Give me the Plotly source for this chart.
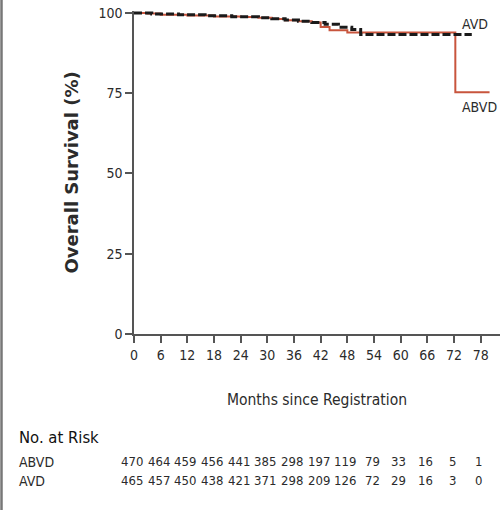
import plotly.graph_objects as go

# Kaplan-Meier step data (months, overall survival %)
abvd_months = [0, 3, 6, 12, 18, 24, 28, 31, 34, 37, 40, 42, 44, 48, 72.3, 80]
abvd_surv = [100, 99.8, 99.4, 99.2, 98.9, 98.7, 98.5, 98.1, 97.7, 97.4, 97.0, 95.6, 94.6, 93.9, 75.3, 75.3]

avd_months = [0, 4, 10, 16, 22, 28, 31, 34, 37, 40, 43, 46, 49, 51, 76]
avd_surv = [100, 99.7, 99.4, 99.1, 98.8, 98.5, 98.2, 97.8, 97.4, 97.0, 96.5, 95.5, 94.8, 93.3, 93.3]

x_ticks = list(range(0, 79, 6))
y_ticks = [0, 25, 50, 75, 100]

risk_abvd = [470, 464, 459, 456, 441, 385, 298, 197, 119, 79, 33, 16, 5, 1]
risk_avd = [465, 457, 450, 438, 421, 371, 298, 209, 126, 72, 29, 16, 3, 0]

FONT = "DejaVu Sans Condensed, Roboto Condensed, Liberation Sans Narrow, Roboto, sans-serif"
TXT = "#2b2b2b"
AX = "#555555"
FS = 14

fig = go.Figure()
fig.add_trace(go.Scatter(x=abvd_months, y=abvd_surv, mode="lines", line_shape="hv",
                         line=dict(color="#c8553d", width=2), showlegend=False))
fig.add_trace(go.Scatter(x=avd_months, y=avd_surv, mode="lines", line_shape="hv",
                         line=dict(color="#1a1a1a", width=3, dash="8px,3px"), showlegend=False))

fig.update_xaxes(range=[0, 82.35], tickvals=x_ticks, ticks="outside", ticklen=7, tickwidth=1.5,
                 tickcolor=AX, showline=True, linecolor=AX, linewidth=1.5, showgrid=False,
                 zeroline=False, tickfont=dict(family=FONT, size=FS, color=TXT),
                 title=dict(text="Months since Registration", font=dict(family=FONT, size=15.5, color=TXT),
                            standoff=33))
fig.update_yaxes(range=[0, 100.6], tickvals=y_ticks, ticks="outside", ticklen=7, tickwidth=1.5,
                 tickcolor=AX, showline=True, linecolor=AX, linewidth=1.5, showgrid=False,
                 zeroline=False, tickfont=dict(family=FONT, size=FS, color=TXT))

ann = []
ann.append(dict(text="<b>Overall Survival (%)</b>", textangle=-90, xref="paper", yref="paper",
                x=-0.172, y=0.50, xanchor="center", yanchor="middle", showarrow=False,
                font=dict(family="DejaVu Sans, Verdana, sans-serif", size=18, color=TXT)))
ann.append(dict(text="AVD", xref="x", yref="y", x=73.3, y=96.4, xanchor="left", yanchor="middle",
                showarrow=False, font=dict(family=FONT, size=FS, color=TXT)))
ann.append(dict(text="ABVD", xref="x", yref="y", x=73.3, y=70.6, xanchor="left", yanchor="middle",
                showarrow=False, font=dict(family=FONT, size=FS, color=TXT)))
ann.append(dict(text="No. at Risk", xref="paper", yref="paper", x=-0.32, y=-0.319, xanchor="left",
                yanchor="middle", showarrow=False,
                font=dict(family=FONT, size=16.5, color="#111111")))
for label, row, yp in [("ABVD", risk_abvd, -0.396), ("AVD", risk_avd, -0.455)]:
    ann.append(dict(text=label, xref="paper", yref="paper", x=-0.32, y=yp, xanchor="left",
                    yanchor="middle", showarrow=False, font=dict(family=FONT, size=FS, color=TXT)))
    for m, v in zip(x_ticks, row):
        ann.append(dict(text=str(v), xref="x", yref="paper", x=m, y=yp, xanchor="center",
                        yanchor="middle", xshift=-2, showarrow=False,
                        font=dict(family=FONT, size=13, color=TXT)))

fig.update_layout(width=501, height=520, margin=dict(l=134, r=1, t=11, b=186),
                  paper_bgcolor="white", plot_bgcolor="white", annotations=ann,
                  shapes=[dict(type="line", xref="paper", yref="paper", x0=-0.362, x1=-0.362,
                               y0=1.04, y1=-0.545, line=dict(color="#777777", width=2.5))])

fig.write_html("out.html", config={"displayModeBar": False},
               post_script="document.body.style.margin='0px';")
